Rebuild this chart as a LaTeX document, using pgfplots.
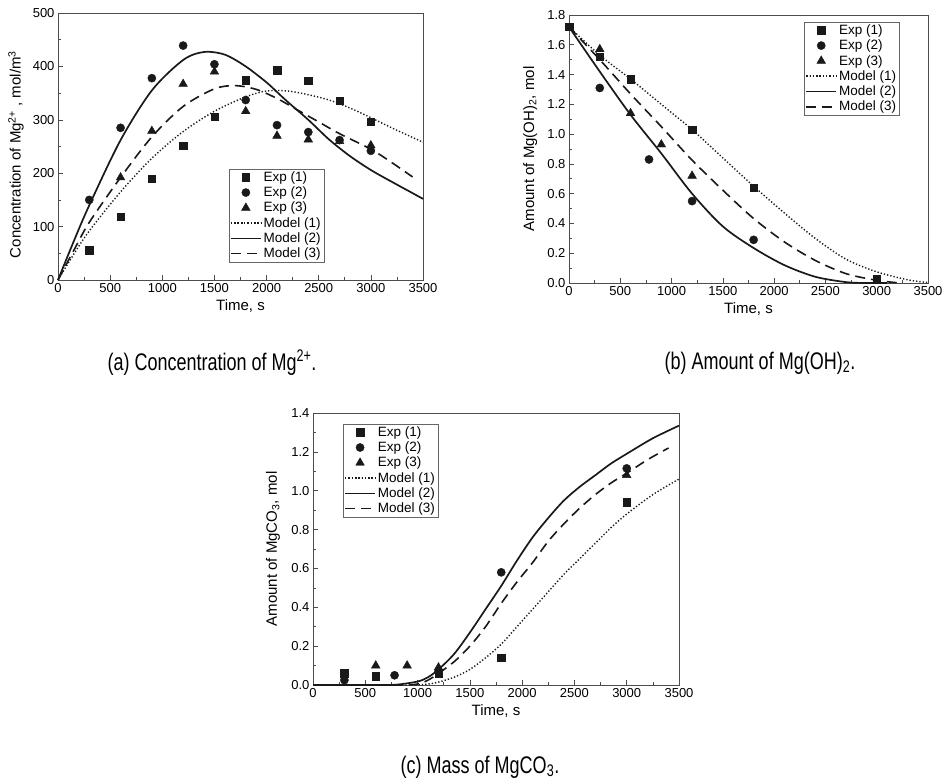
\documentclass[border=0pt]{standalone}
\usepackage{fontspec}
\setmainfont{Liberation Sans}
\newfontfamily\capfont[FakeStretch=0.75]{Liberation Sans}
\usepackage{pgfplots}
\pgfplotsset{compat=1.18}

\pgfplotsset{
  panel/.style={
    scale only axis, clip=false,
    xmin=0, xmax=3500, xtick={0,500,...,3500},
    minor x tick num=1, minor y tick num=1,
    tick align=inside, xtick pos=bottom, ytick pos=left,
    major tick length=5pt, minor tick length=3pt,
    axis line style={black!70, line width=0.8pt},
    every tick/.style={black!70, line width=0.6pt},
    tick label style={font=\fontsize{13}{15}\selectfont},
    /pgf/number format/assume math mode=true,
    /pgf/number format/1000 sep={},
    label style={font=\fontsize{15}{17}\selectfont},
    xlabel={Time, s},
    legend style={draw=black!60, anchor=north west,
      font=\fontsize{13.5}{15}\selectfont, inner xsep=1pt, inner ysep=0.5pt},
    legend cell align=left,
    legend image code/.code={\draw[mark repeat=2,mark phase=2,#1]
      plot coordinates {(0pt,0pt)(15pt,0pt)(30pt,0pt)};},
  },
  exp1/.style={only marks, mark=square*, mark size=3.7pt, black!90},
  exp2/.style={only marks, mark=*, mark size=4.1pt, black!90},
  exp3/.style={only marks, mark=triangle*, mark size=5pt, black!90},
  mod1/.style={no marks, black!90, line width=1.4pt, dash pattern=on 1.3pt off 2pt},
  mod2/.style={no marks, black!90, line width=1.7pt},
  mod3/.style={no marks, black!90, line width=1.6pt, dash pattern=on 10pt off 6pt},
  onedec/.style={yticklabel style={/pgf/number format/.cd, fixed, fixed zerofill, precision=1}},
}

\begin{document}
\begin{tikzpicture}
\path[use as bounding box] (0pt,0pt) rectangle (947pt,-780pt);

% (a) Mg2+ concentration
\begin{axis}[panel, at={(58pt,-280pt)}, anchor=south west,
  width=365pt, height=267pt,
  ymin=0, ymax=500, ytick={0,100,...,500},
  ylabel={Concentration of Mg\textsuperscript{2+} , mol/m\textsuperscript{3}},
  ylabel style={at={(axis description cs:-0.115,0.47)}, anchor=center},
  legend style={at={(0.468,0.416)}},
]
\addplot[exp1] coordinates {(300,56)(600,119)(900,190)(1200,251)(1500,306)(1800,374)(2100,393)(2400,373)(2700,336)(3000,297)};
\addplot[exp2] coordinates {(300,150)(600,285)(900,378)(1200,439)(1500,404)(1800,337)(2100,290)(2400,277)(2700,262)(3000,242)};
\addplot[exp3] coordinates {(600,192)(900,279)(1200,367)(1500,390)(1800,316)(2100,270)(2400,263)(2700,260)(3000,252)};
\addplot[mod1, smooth] coordinates {(0,0)(150,48)(300,92)(600,165)(900,228)(1200,278)(1500,316)(1800,343)(2000,354)(2200,354)(2400,347)(2600,337)(2800,322)(3000,304)(3200,285)(3500,258)};
\addplot[mod2, smooth] coordinates {(0,0)(150,72)(300,140)(600,262)(900,355)(1200,412)(1400,427)(1600,422)(1800,400)(2000,370)(2100,352)(2200,334)(2400,300)(2600,263)(2800,232)(3000,206)(3200,184)(3500,152)};
\addplot[mod3, smooth] coordinates {(0,0)(150,55)(300,108)(600,192)(900,268)(1200,325)(1500,358)(1700,364)(1900,357)(2100,340)(2300,318)(2500,296)(2700,274)(3000,245)(3200,220)(3400,193)};
\legend{Exp (1),Exp (2),Exp (3),Model (1),Model (2),Model (3)}
\end{axis}

% (b) Mg(OH)2 amount
\begin{axis}[panel, onedec, at={(569pt,-283pt)}, anchor=south west,
  width=359pt, height=268pt,
  ymin=0, ymax=1.8, ytick={0,0.2,...,1.8},
  ylabel={Amount of Mg(OH)\textsubscript{2}, mol},
  ylabel style={at={(axis description cs:-0.108,0.5)}, anchor=center},
  legend style={at={(0.655,0.974)}},
]
\addplot[exp1] coordinates {(0,1.72)(300,1.52)(600,1.37)(1200,1.03)(1800,0.64)(3000,0.03)};
\addplot[exp2] coordinates {(300,1.31)(780,0.83)(1200,0.55)(1800,0.29)};
\addplot[exp3] coordinates {(300,1.57)(600,1.14)(900,0.93)(1200,0.72)};
\addplot[mod1, smooth] coordinates {(0,1.72)(300,1.53)(600,1.37)(900,1.2)(1200,1.03)(1500,0.84)(1800,0.65)(2100,0.47)(2400,0.3)(2700,0.16)(3000,0.075)(3300,0.022)(3500,0.003)};
\addplot[mod2, smooth] coordinates {(0,1.72)(300,1.42)(600,1.13)(900,0.87)(1200,0.6)(1500,0.38)(1800,0.235)(2100,0.12)(2400,0.042)(2700,0.006)(2900,0)(3100,0)};
\addplot[mod3, smooth] coordinates {(0,1.72)(300,1.5)(600,1.27)(900,1.05)(1200,0.825)(1500,0.623)(1800,0.433)(2100,0.276)(2400,0.152)(2700,0.063)(3000,0.018)(3200,0.002)};
\legend{Exp (1),Exp (2),Exp (3),Model (1),Model (2),Model (3)}
\end{axis}

% (c) MgCO3 amount
\begin{axis}[panel, onedec, at={(313pt,-685pt)}, anchor=south west,
  width=366pt, height=272pt,
  ymin=0, ymax=1.4, ytick={0,0.2,...,1.4},
  ylabel={Amount of MgCO\textsubscript{3}, mol},
  ylabel style={at={(axis description cs:-0.109,0.5)}, anchor=center},
  legend style={at={(0.082,0.96)}},
]
\addplot[exp1] coordinates {(300,0.06)(600,0.045)(1200,0.06)(1800,0.14)(3000,0.94)};
\addplot[exp2] coordinates {(300,0.025)(780,0.05)(1200,0.07)(1800,0.58)(3000,1.115)};
\addplot[exp3] coordinates {(600,0.1)(900,0.1)(1200,0.09)(3000,1.08)};
\addplot[mod1, smooth] coordinates {(0,0)(900,0)(1100,0.005)(1200,0.015)(1350,0.04)(1500,0.08)(1650,0.14)(1800,0.21)(1950,0.3)(2100,0.39)(2250,0.48)(2400,0.57)(2550,0.65)(2700,0.73)(2850,0.81)(3000,0.88)(3250,0.98)(3500,1.06)};
\addplot[mod2, smooth] coordinates {(0,0)(600,0)(800,0.002)(1000,0.018)(1100,0.04)(1200,0.08)(1350,0.16)(1500,0.27)(1650,0.39)(1800,0.51)(1950,0.64)(2100,0.76)(2250,0.86)(2400,0.95)(2550,1.02)(2700,1.08)(2850,1.14)(3000,1.19)(3250,1.27)(3500,1.335)};
\addplot[mod3, smooth] coordinates {(0,0)(800,0)(1000,0.005)(1100,0.025)(1200,0.06)(1350,0.12)(1500,0.2)(1650,0.3)(1800,0.42)(1950,0.53)(2100,0.63)(2250,0.74)(2400,0.83)(2550,0.91)(2700,0.98)(2850,1.04)(3000,1.09)(3200,1.16)(3400,1.22)};
\legend{Exp (1),Exp (2),Exp (3),Model (1),Model (2),Model (3)}
\end{axis}

\node[font=\capfont\fontsize{24}{28}\selectfont] at (212pt,-363pt) {(a) Concentration of Mg\textsuperscript{2+}.};
\node[font=\capfont\fontsize{24}{28}\selectfont] at (760pt,-363pt) {(b) Amount of Mg(OH)\textsubscript{2}.};
\node[font=\capfont\fontsize{24}{28}\selectfont] at (480pt,-767pt) {(c) Mass of MgCO\textsubscript{3}.};
\end{tikzpicture}
\end{document}
